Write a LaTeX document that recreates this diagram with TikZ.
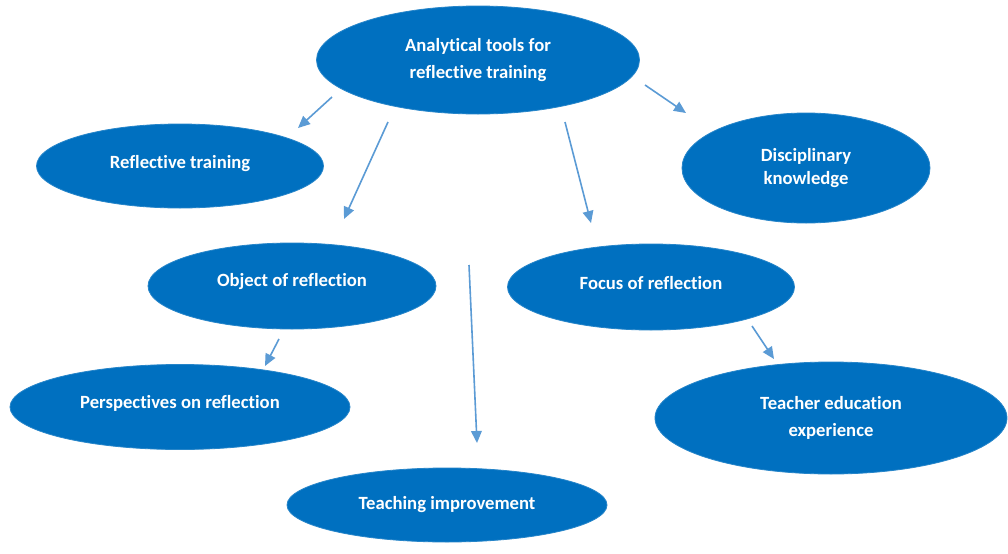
\documentclass[tikz,border=0pt]{standalone}
\usepackage{fontspec}
\setmainfont{Carlito}[Ligatures=NoCommon]
\usetikzlibrary{shapes.geometric,arrows.meta}
\definecolor{nodeblue}{HTML}{0070C0}
\definecolor{arrowblue}{HTML}{5B9BD5}
\begin{document}
\begin{tikzpicture}[x=0.75pt,y=-0.75pt,
  bubble/.style={ellipse,fill=nodeblue,draw=nodeblue!85!white,line width=0.6pt,
    inner sep=0pt,text=white,font=\bfseries\fontsize{14}{20}\selectfont,align=center},
  tight/.style={font=\bfseries\fontsize{14}{16.5}\selectfont},
  link/.style={draw=arrowblue,line width=1.2pt,
    -{Triangle[width=8pt,length=9pt]}}]
\useasboundingbox (0,0) rectangle (1008,554);
\fill[white] (0,0) rectangle (1008,554);

% ellipses (width and height in px)
\newcommand{\bub}[6][]{\node[bubble,minimum width=#4*0.75pt,minimum height=#5*0.75pt,#1] (#2) at #3 {#6};}
\bub{top}{(478,60)}{323}{108}{Analytical tools for\\reflective training}
\bub{rt}{(180,166)}{287}{84}{\raisebox{6pt}{Reflective training}}
\bub[tight]{dk}{(806,168)}{248}{110}{\raisebox{1pt}{Disciplinary}\\knowledge}
\bub{obj}{(292,286)}{288}{86}{\raisebox{8.5pt}{Object of reflection}}
\bub{foc}{(651,287)}{287}{86}{\raisebox{6.5pt}{Focus of reflection}}
\bub{per}{(180,407)}{340}{85}{\raisebox{7.5pt}{Perspectives on reflection}}
\bub{tee}{(831,418)}{352}{112}{Teacher education\\experience}
\bub{ti}{(447,505)}{320}{74}{\raisebox{3pt}{Teaching improvement}}

% free arrow ends
\coordinate (a1s) at (332,97);  \coordinate (a1e) at (298,128);
\coordinate (a2s) at (388,122); \coordinate (a2e) at (344,219);
\coordinate (a3s) at (565,122); \coordinate (a3e) at (591,223);
\coordinate (a4s) at (645,85);  \coordinate (a4e) at (686,113);
\coordinate (a5s) at (279,339); \coordinate (a5e) at (265,366);
\coordinate (a6s) at (469,265); \coordinate (a6e) at (477,443);
\coordinate (a7s) at (752,326); \coordinate (a7e) at (774,359);

\foreach \i in {1,...,7}{\draw[link] (a\i s) -- (a\i e);}
\end{tikzpicture}
\end{document}
